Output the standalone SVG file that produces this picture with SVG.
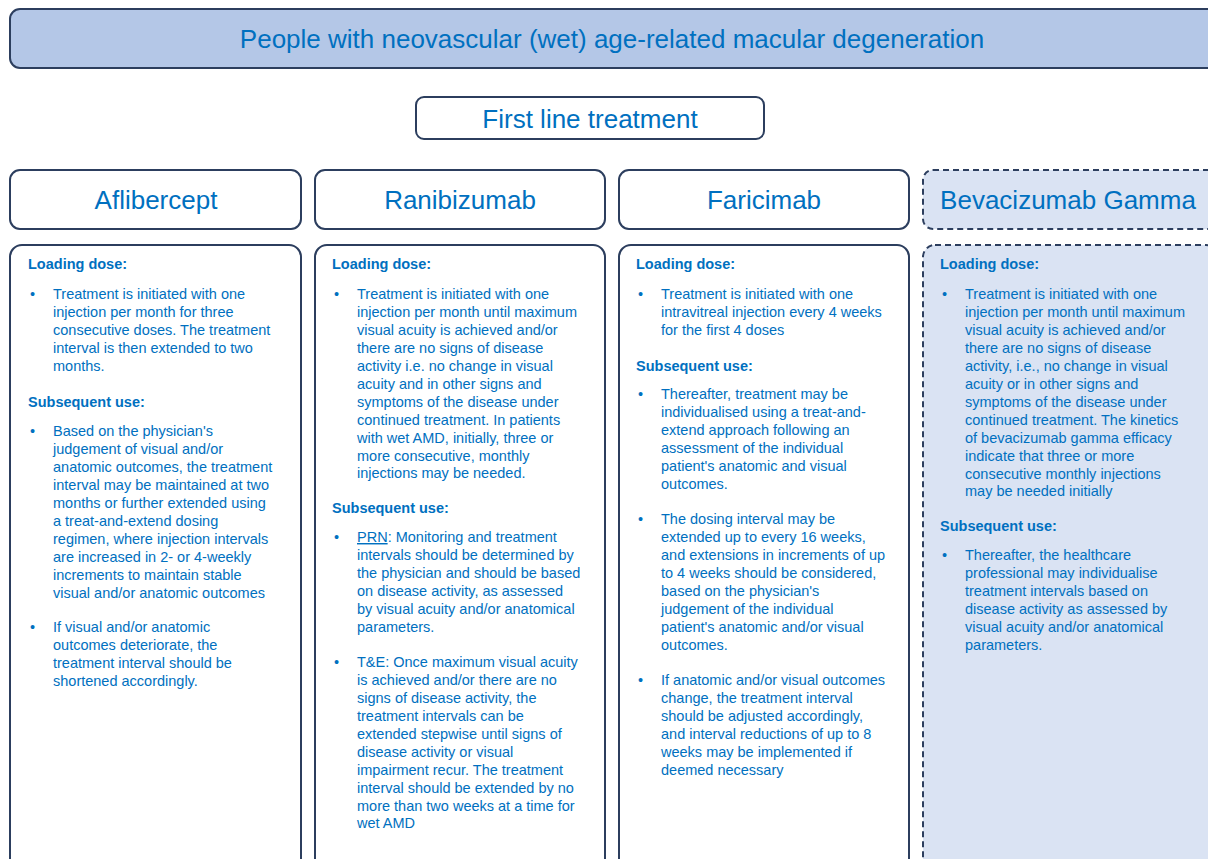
<svg xmlns="http://www.w3.org/2000/svg" width="1208" height="859" viewBox="0 0 1208 859">
<style>
.box{fill:#ffffff;stroke:#2c3e5e;stroke-width:2}
.dash{fill:#dae3f3;stroke:#2c3e5e;stroke-width:2;stroke-dasharray:6 4}
.hdr{fill:#b4c7e7;stroke:#2c3e5e;stroke-width:2}
.big{font-family:"Liberation Sans",Arial,sans-serif;font-size:26px;fill:#0070c0;text-anchor:middle}
.h{font-family:"Liberation Sans",Arial,sans-serif;font-size:14.5px;font-weight:bold;fill:#0070c0}
.t{font-family:"Liberation Sans",Arial,sans-serif;font-size:14.5px;fill:#0070c0}
</style>
<rect width="1208" height="859" fill="#ffffff"/>
<g id="population">
<rect class="hdr" x="10" y="9" width="1210" height="59" rx="10"/>
<text class="big" x="612" y="48">People with neovascular (wet) age-related macular degeneration</text>
</g>
<g id="first-line">
<rect class="box" x="416" y="97" width="348" height="42" rx="8"/>
<text class="big" x="590" y="128">First line treatment</text>
</g>
<g id="connectors"></g>

<g id="aflibercept">
<rect class="box" x="10" y="170" width="291" height="59" rx="10"/>
<text class="big" x="156" y="209">Aflibercept</text>
<rect class="box" x="10" y="245" width="291" height="640" rx="12"/>
<text class="h" x="28" y="269">Loading dose:</text>
<text class="t" x="30" y="299">•</text>
<text class="t" y="299"><tspan x="53">Treatment is initiated with one</tspan><tspan x="53" dy="18">injection per month for three</tspan><tspan x="53" dy="18">consecutive doses. The treatment</tspan><tspan x="53" dy="18">interval is then extended to two</tspan><tspan x="53" dy="18">months.</tspan></text>
<text class="h" x="28" y="407">Subsequent use:</text>
<text class="t" x="30" y="436">•</text>
<text class="t" y="436"><tspan x="53">Based on the physician's</tspan><tspan x="53" dy="18">judgement of visual and/or</tspan><tspan x="53" dy="18">anatomic outcomes, the treatment</tspan><tspan x="53" dy="18">interval may be maintained at two</tspan><tspan x="53" dy="18">months or further extended using</tspan><tspan x="53" dy="18">a treat-and-extend dosing</tspan><tspan x="53" dy="18">regimen, where injection intervals</tspan><tspan x="53" dy="18">are increased in 2- or 4-weekly</tspan><tspan x="53" dy="18">increments to maintain stable</tspan><tspan x="53" dy="18">visual and/or anatomic outcomes</tspan></text>
<text class="t" x="30" y="632">•</text>
<text class="t" y="632"><tspan x="53">If visual and/or anatomic</tspan><tspan x="53" dy="18">outcomes deteriorate, the</tspan><tspan x="53" dy="18">treatment interval should be</tspan><tspan x="53" dy="18">shortened accordingly.</tspan></text>
</g>

<g id="ranibizumab">
<rect class="box" x="315" y="170" width="290" height="59" rx="10"/>
<text class="big" x="460" y="209">Ranibizumab</text>
<rect class="box" x="315" y="245" width="290" height="640" rx="12"/>
<text class="h" x="332" y="269">Loading dose:</text>
<text class="t" x="334" y="299">•</text>
<text class="t" y="299"><tspan x="357">Treatment is initiated with one</tspan><tspan x="357" dy="18">injection per month until maximum</tspan><tspan x="357" dy="18">visual acuity is achieved and/or</tspan><tspan x="357" dy="18">there are no signs of disease</tspan><tspan x="357" dy="18">activity i.e. no change in visual</tspan><tspan x="357" dy="18">acuity and in other signs and</tspan><tspan x="357" dy="18">symptoms of the disease under</tspan><tspan x="357" dy="18">continued treatment. In patients</tspan><tspan x="357" dy="18">with wet AMD, initially, three or</tspan><tspan x="357" dy="18">more consecutive, monthly</tspan><tspan x="357" dy="17">injections may be needed.</tspan></text>
<text class="h" x="332" y="513">Subsequent use:</text>
<text class="t" x="334" y="542">•</text>
<text class="t" y="542"><tspan x="357" text-decoration="underline">PRN</tspan><tspan>: Monitoring and treatment</tspan><tspan x="357" dy="18">intervals should be determined by</tspan><tspan x="357" dy="18">the physician and should be based</tspan><tspan x="357" dy="18">on disease activity, as assessed</tspan><tspan x="357" dy="18">by visual acuity and/or anatomical</tspan><tspan x="357" dy="18">parameters.</tspan></text>
<text class="t" x="334" y="667">•</text>
<text class="t" y="667"><tspan x="357">T&amp;E: Once maximum visual acuity</tspan><tspan x="357" dy="18">is achieved and/or there are no</tspan><tspan x="357" dy="18">signs of disease activity, the</tspan><tspan x="357" dy="18">treatment intervals can be</tspan><tspan x="357" dy="18">extended stepwise until signs of</tspan><tspan x="357" dy="18">disease activity or visual</tspan><tspan x="357" dy="18">impairment recur. The treatment</tspan><tspan x="357" dy="18">interval should be extended by no</tspan><tspan x="357" dy="18">more than two weeks at a time for</tspan><tspan x="357" dy="17">wet AMD</tspan></text>
</g>

<g id="faricimab">
<rect class="box" x="619" y="170" width="290" height="59" rx="10"/>
<text class="big" x="764" y="209">Faricimab</text>
<rect class="box" x="619" y="245" width="290" height="640" rx="12"/>
<text class="h" x="636" y="269">Loading dose:</text>
<text class="t" x="638" y="299">•</text>
<text class="t" y="299"><tspan x="661">Treatment is initiated with one</tspan><tspan x="661" dy="18">intravitreal injection every 4 weeks</tspan><tspan x="661" dy="18">for the first 4 doses</tspan></text>
<text class="h" x="636" y="371">Subsequent use:</text>
<text class="t" x="638" y="399">•</text>
<text class="t" y="399"><tspan x="661">Thereafter, treatment may be</tspan><tspan x="661" dy="18">individualised using a treat-and-</tspan><tspan x="661" dy="18">extend approach following an</tspan><tspan x="661" dy="18">assessment of the individual</tspan><tspan x="661" dy="18">patient's anatomic and visual</tspan><tspan x="661" dy="18">outcomes.</tspan></text>
<text class="t" x="638" y="524">•</text>
<text class="t" y="524"><tspan x="661">The dosing interval may be</tspan><tspan x="661" dy="18">extended up to every 16 weeks,</tspan><tspan x="661" dy="18">and extensions in increments of up</tspan><tspan x="661" dy="18">to 4 weeks should be considered,</tspan><tspan x="661" dy="18">based on the physician's</tspan><tspan x="661" dy="18">judgement of the individual</tspan><tspan x="661" dy="18">patient's anatomic and/or visual</tspan><tspan x="661" dy="18">outcomes.</tspan></text>
<text class="t" x="638" y="685">•</text>
<text class="t" y="685"><tspan x="661">If anatomic and/or visual outcomes</tspan><tspan x="661" dy="18">change, the treatment interval</tspan><tspan x="661" dy="18">should be adjusted accordingly,</tspan><tspan x="661" dy="18">and interval reductions of up to 8</tspan><tspan x="661" dy="18">weeks may be implemented if</tspan><tspan x="661" dy="18">deemed necessary</tspan></text>
</g>

<g id="bevacizumab-gamma">
<rect class="dash" x="923" y="170" width="295" height="59" rx="10"/>
<text class="big" x="1068" y="209">Bevacizumab Gamma</text>
<rect class="dash" x="923" y="245" width="295" height="640" rx="12"/>
<text class="h" x="940" y="269">Loading dose:</text>
<text class="t" x="942" y="299">•</text>
<text class="t" y="299"><tspan x="965">Treatment is initiated with one</tspan><tspan x="965" dy="18">injection per month until maximum</tspan><tspan x="965" dy="18">visual acuity is achieved and/or</tspan><tspan x="965" dy="18">there are no signs of disease</tspan><tspan x="965" dy="18">activity, i.e., no change in visual</tspan><tspan x="965" dy="18">acuity or in other signs and</tspan><tspan x="965" dy="18">symptoms of the disease under</tspan><tspan x="965" dy="18">continued treatment. The kinetics</tspan><tspan x="965" dy="18">of bevacizumab gamma efficacy</tspan><tspan x="965" dy="18">indicate that three or more</tspan><tspan x="965" dy="18">consecutive monthly injections</tspan><tspan x="965" dy="17">may be needed initially</tspan></text>
<text class="h" x="940" y="531">Subsequent use:</text>
<text class="t" x="942" y="560">•</text>
<text class="t" y="560"><tspan x="965">Thereafter, the healthcare</tspan><tspan x="965" dy="18">professional may individualise</tspan><tspan x="965" dy="18">treatment intervals based on</tspan><tspan x="965" dy="18">disease activity as assessed by</tspan><tspan x="965" dy="18">visual acuity and/or anatomical</tspan><tspan x="965" dy="18">parameters.</tspan></text>
</g>
</svg>
